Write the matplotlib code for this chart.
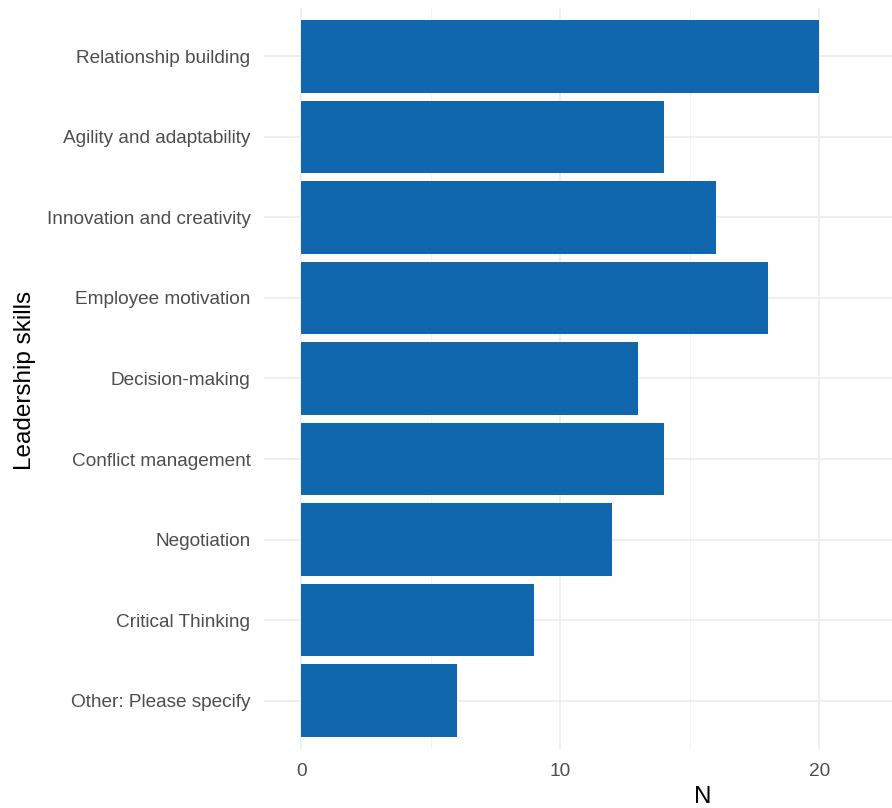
import matplotlib
matplotlib.use("Agg")
import matplotlib.pyplot as plt
from matplotlib.ticker import MultipleLocator

skills = ["Relationship building", "Agility and adaptability", "Innovation and creativity",
          "Employee motivation", "Decision-making", "Conflict management",
          "Negotiation", "Critical Thinking", "Other: Please specify"]
counts = [20, 14, 16, 18, 13, 14, 12, 9, 6]
x_ticks = [0, 10, 20]

plt.rcParams['font.family'] = ['Liberation Sans', 'DejaVu Sans']

fig = plt.figure(figsize=(8.92, 8.08), dpi=100)
ax = fig.add_axes([264/892, 1 - 749/808, 1 - 264/892, (749 - 8)/808])

ypos = list(range(len(skills)))[::-1]
ax.barh(ypos, counts, height=0.9, color='#1167ae', zorder=3)

ax.set_ylim(-0.6, len(skills) - 0.4)
ax.set_xlim(-1.43, 22.8)
ax.set_yticks(ypos)
ax.set_yticklabels(skills)
ax.set_xticks(x_ticks)
ax.xaxis.set_minor_locator(MultipleLocator(5))

ax.grid(True, which='major', color='#ebebeb', linewidth=1.1, zorder=0)
ax.grid(True, which='minor', axis='x', color='#f3f3f3', linewidth=0.7, zorder=0)
for s in ax.spines.values():
    s.set_visible(False)
ax.tick_params(which='both', length=0)
ax.tick_params(axis='y', labelsize=13.7, labelcolor='#4d4d4d', pad=9.8)
ax.tick_params(axis='x', labelsize=13.7, labelcolor='#4d4d4d', pad=10)

fig.text(25/892, 1 - 380/808, "Leadership skills", rotation=90, fontsize=17.5,
         color='black', ha='center', va='center')
fig.text(703/892, 1 - 797/808, "N", fontsize=17.5, color='black', ha='center', va='center')

fig.savefig("out.png", dpi=100)
